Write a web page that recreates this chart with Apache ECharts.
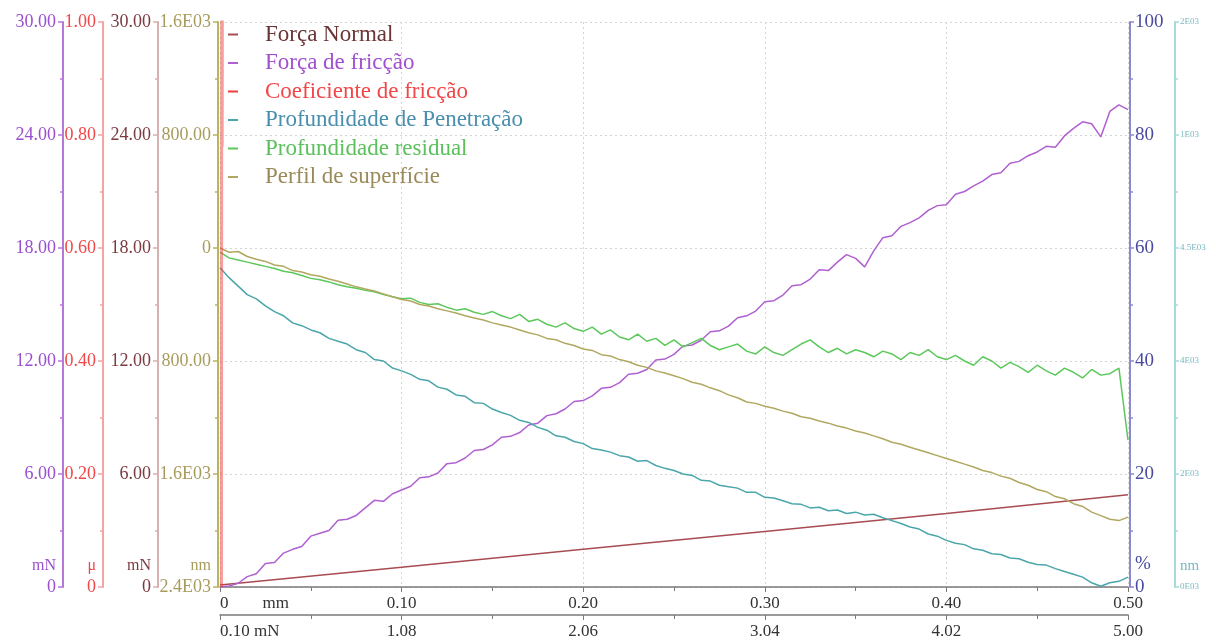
<!DOCTYPE html>
<html><head><meta charset="utf-8">
<script src="https://cdn.jsdelivr.net/npm/echarts@6/dist/echarts.min.js"></script>
<style>html,body{margin:0;padding:0;background:#fff}#chart{width:1216px;height:640px}</style>
</head><body><div id="chart"></div>
<script>
// ---------- data ----------
const seriesNames = ['Força Normal','Força de fricção','Coeficiente de fricção','Profundidade de Penetração','Profundidade residual','Perfil de superfície'];

const distanceMm = [0,0.005,0.01,0.015,0.02,0.025,0.03,0.035,0.04,0.045,
 0.05,0.055,0.06,0.065,0.07,0.075,0.08,0.085,0.09,0.095,
 0.1,0.105,0.11,0.115,0.12,0.125,0.13,0.135,0.14,0.145,
 0.15,0.155,0.16,0.165,0.17,0.175,0.18,0.185,0.19,0.195,
 0.2,0.205,0.21,0.215,0.22,0.225,0.23,0.235,0.24,0.245,
 0.25,0.255,0.26,0.265,0.27,0.275,0.28,0.285,0.29,0.295,
 0.3,0.305,0.31,0.315,0.32,0.325,0.33,0.335,0.34,0.345,
 0.35,0.355,0.36,0.365,0.37,0.375,0.38,0.385,0.39,0.395,
 0.4,0.405,0.41,0.415,0.42,0.425,0.43,0.435,0.44,0.445,
 0.45,0.455,0.46,0.465,0.47,0.475,0.48,0.485,0.49,0.495,
 0.5];

const frictionForce = [0.00,0.05,0.20,0.55,0.70,1.25,1.30,1.80,2.00,2.15,
 2.70,2.85,3.00,3.55,3.60,3.80,4.20,4.60,4.55,4.95,
 5.15,5.35,5.80,5.85,6.05,6.55,6.60,6.85,7.25,7.30,
 7.55,7.95,8.00,8.20,8.60,8.70,9.10,9.20,9.45,9.85,
 9.90,10.15,10.55,10.60,10.85,11.30,11.35,11.55,12.05,12.10,
 12.35,12.80,12.85,13.10,13.55,13.60,13.85,14.30,14.40,14.65,
 15.15,15.20,15.50,16.00,16.05,16.35,16.85,16.80,17.25,17.65,
 17.45,17.00,17.85,18.55,18.65,19.15,19.35,19.60,20.00,20.25,
 20.30,20.85,21.00,21.30,21.55,21.90,22.00,22.50,22.60,22.90,
 23.10,23.40,23.35,23.95,24.35,24.70,24.60,23.90,25.25,25.60,
 25.35];

const penetrationDepth = [-140,-210,-270,-330,-360,-410,-450,-480,-530,-550,
 -580,-600,-640,-660,-680,-720,-740,-790,-800,-850,
 -870,-895,-930,-940,-985,-1000,-1040,-1050,-1095,-1100,
 -1140,-1165,-1185,-1220,-1235,-1270,-1290,-1330,-1340,-1370,
 -1385,-1420,-1430,-1445,-1470,-1480,-1510,-1505,-1540,-1560,
 -1575,-1600,-1610,-1645,-1650,-1680,-1690,-1700,-1730,-1730,
 -1765,-1770,-1790,-1810,-1815,-1840,-1835,-1860,-1855,-1880,
 -1870,-1890,-1885,-1910,-1930,-1950,-1975,-1990,-2025,-2040,
 -2070,-2090,-2100,-2130,-2140,-2165,-2170,-2195,-2200,-2225,
 -2240,-2245,-2270,-2290,-2310,-2330,-2370,-2395,-2370,-2360,
 -2330];

const residualDepth = [-30,-70,-85,-100,-115,-130,-145,-165,-175,-195,
 -215,-225,-240,-260,-275,-285,-300,-310,-330,-345,
 -360,-355,-385,-400,-395,-420,-440,-430,-455,-470,
 -450,-480,-500,-470,-520,-505,-540,-560,-530,-570,
 -590,-560,-610,-580,-630,-650,-610,-660,-640,-690,
 -650,-700,-670,-640,-690,-720,-700,-680,-730,-750,
 -700,-740,-760,-720,-680,-650,-700,-740,-710,-750,
 -720,-740,-770,-730,-750,-790,-740,-760,-720,-770,
 -790,-760,-800,-830,-770,-800,-850,-810,-840,-880,
 -830,-870,-900,-850,-880,-920,-860,-900,-890,-850,
 -1360];

const surfaceProfile = [0,-30,-25,-60,-80,-95,-120,-130,-160,-170,
 -190,-200,-220,-235,-255,-275,-290,-305,-325,-345,
 -365,-375,-400,-410,-430,-445,-460,-480,-495,-510,
 -530,-545,-560,-580,-600,-615,-640,-650,-675,-690,
 -715,-725,-755,-765,-790,-805,-830,-845,-870,-885,
 -905,-925,-950,-965,-990,-1010,-1040,-1060,-1090,-1100,
 -1120,-1135,-1155,-1170,-1195,-1205,-1225,-1240,-1260,-1275,
 -1295,-1310,-1330,-1350,-1375,-1390,-1410,-1430,-1450,-1470,
 -1490,-1510,-1530,-1550,-1575,-1590,-1615,-1630,-1660,-1680,
 -1710,-1725,-1760,-1775,-1810,-1830,-1870,-1895,-1920,-1930,
 -1905];

const normalDistance = [0,0.1,0.2,0.3,0.4,0.5];
const normalForce = [0.1,1.05,2.0,2.95,3.9,4.9];

const coefDistance = [0.0008,0.001,0.0012,0.0015,0.05,0.1,0.2,0.3,0.4,0.5];
const coefValue = [0,1.4,0.78,1.6,2.4,4.8,4.9,5.0,5.1,5.1];

// tick labels
const forceTickLabels = ['0','6.00','12.00','18.00','24.00','30.00'];
const coefTickLabels = ['0','0.20','0.40','0.60','0.80','1.00'];
const depthTickLabels = ['2.4E03','1.6E03','800.00','0','800.00','1.6E03'];
const percentTickLabels = ['0','20','40','60','80','100'];
const nmRightTickLabels = ['0E03','2E03','4E03','4.5E03','1E03','2E03'];
const mmTickLabels = ['0        mm','0.10','0.20','0.30','0.40','0.50'];
const loadTickLabels = ['0.10 mN','1.08','2.06','3.04','4.02','5.00'];

// ---------- chart ----------
const FONT = "'Liberation Serif','Times New Roman',serif";
const zip = (xs, ys) => xs.map((x, i) => [x, ys[i]]);
const pick = (labels, min, interval) => (v) => labels[Math.round((v - min) / interval)] ?? '';

function leftAxis(offset, color, lineColor, labels, min, max, interval, unit, extra) {
  return Object.assign({
    type: 'value', position: 'left', offset, min, max, interval,
    axisLine: {show: true, onZero: false, lineStyle: {color: lineColor, width: 2}},
    axisTick: {show: true, length: 5, lineStyle: {color: lineColor, width: 1.5}},
    minorTick: {show: true, splitNumber: 2, length: 3, lineStyle: {color: lineColor, width: 1.5}},
    axisLabel: {color, fontFamily: FONT, fontSize: 18, margin: 7, formatter: pick(labels, min, interval)},
    splitLine: {show: false},
    name: unit, nameLocation: 'start', nameGap: -13, nameMoveOverlap: false,
    nameTextStyle: {color, fontFamily: FONT, fontSize: 16, align: 'right', verticalAlign: 'bottom', padding: [0, 7, 0, 0]}
  }, extra || {});
}
function rightAxis(offset, color, lineColor, labels, fontSize, unit, unitSize) {
  return {
    type: 'value', position: 'right', offset, min: 0, max: 100, interval: 20,
    axisLine: {show: true, onZero: false, lineStyle: {color: lineColor, width: 2}},
    axisTick: {show: true, length: 4, lineStyle: {color: lineColor, width: 1.5}},
    minorTick: {show: true, splitNumber: 2, length: 3, lineStyle: {color: lineColor, width: 1.5}},
    axisLabel: {color, fontFamily: FONT, fontSize, margin: 5, formatter: pick(labels, 0, 20)},
    splitLine: {show: false},
    name: unit, nameLocation: 'start', nameGap: -13, nameMoveOverlap: false,
    nameTextStyle: {color, fontFamily: FONT, fontSize: unitSize, align: 'left', verticalAlign: 'bottom', padding: [0, 0, 0, 5]}
  };
}
function bottomAxis(offset, labels, split) {
  return {
    type: 'value', position: 'bottom', offset, min: 0, max: 0.5, interval: 0.1,
    axisLine: {show: true, onZero: false, lineStyle: {color: '#7a7a7a', width: 1.5}},
    axisTick: {show: true, length: 5, lineStyle: {color: '#7a7a7a'}},
    minorTick: {show: true, splitNumber: 2, length: 4, lineStyle: {color: '#7a7a7a'}},
    axisLabel: {color: '#333', fontFamily: FONT, fontSize: 17, margin: 8, alignMinLabel: 'left', formatter: pick(labels, 0, 0.1)},
    splitLine: {show: split, lineStyle: {color: '#d4d4d4', type: [2, 3], width: 1}}
  };
}

const colors = ['#a84c52', '#b060d0', '#f03c3c', '#4aa6aa', '#5cc85c', '#b0a860'];
const legendColors = ['#6a3535', '#a050d0', '#f04848', '#4a8fae', '#5cc05c', '#9a8a5a'];

const option = {
  animation: false,
  backgroundColor: '#fff',
  grid: {left: 220, right: 88, top: 22, bottom: 53, containLabel: false},
  legend: {
    orient: 'vertical', left: 223, top: 18, itemWidth: 10, itemHeight: 2, itemGap: 5.5,
    icon: 'rect', selectedMode: false,
    textStyle: {fontFamily: FONT, fontSize: 23, padding: [0, 0, 0, 22]},
    data: seriesNames.map((n, i) => ({name: n, textStyle: {color: legendColors[i]}}))
  },
  xAxis: [bottomAxis(0, mmTickLabels, true), bottomAxis(28, loadTickLabels, false)],
  yAxis: [
    leftAxis(157, '#9a4fd0', '#b878da', forceTickLabels, 0, 30, 6, 'mN',
      {splitLine: {show: true, lineStyle: {color: '#d4d4d4', type: [2, 3], width: 1}}}),
    leftAxis(117, '#f04848', '#f4a4a4', coefTickLabels, 0, 1, 0.2, 'μ'),
    leftAxis(62, '#7a3a40', '#d8b0b0', forceTickLabels, 0, 30, 6, 'mN'),
    leftAxis(2, '#a89c5c', '#b8b460', depthTickLabels, -2400, 1600, 800, 'nm'),
    rightAxis(2, '#4a4aa0', '#8a8ad0', percentTickLabels, 19, '%', 19),
    rightAxis(47, '#78b8c0', '#a8dada', nmRightTickLabels, 9, 'nm', 15)
  ],
  series: [
    {name: seriesNames[0], type: 'line', xAxisIndex: 0, yAxisIndex: 2, data: zip(normalDistance, normalForce),
      symbol: 'none', color: colors[0], lineStyle: {width: 1.5}},
    {name: seriesNames[1], type: 'line', xAxisIndex: 0, yAxisIndex: 0, data: zip(distanceMm, frictionForce),
      symbol: 'none', color: colors[1], lineStyle: {width: 1.5}},
    {name: seriesNames[3], type: 'line', xAxisIndex: 0, yAxisIndex: 3, data: zip(distanceMm, penetrationDepth),
      symbol: 'none', color: colors[3], lineStyle: {width: 1.5}},
    {name: seriesNames[4], type: 'line', xAxisIndex: 0, yAxisIndex: 3, data: zip(distanceMm, residualDepth),
      symbol: 'none', color: colors[4], lineStyle: {width: 1.5}},
    {name: seriesNames[5], type: 'line', xAxisIndex: 0, yAxisIndex: 3, data: zip(distanceMm, surfaceProfile),
      symbol: 'none', color: colors[5], lineStyle: {width: 1.5}},
    {name: seriesNames[2], type: 'line', xAxisIndex: 0, yAxisIndex: 1, data: zip(coefDistance, coefValue),
      symbol: 'none', color: colors[2], z: 5, lineStyle: {width: 3, opacity: 0.5}}
  ]
};
const chart = echarts.init(document.getElementById('chart'), null, {renderer: 'canvas'});
chart.setOption(option);
</script>
</body></html>
